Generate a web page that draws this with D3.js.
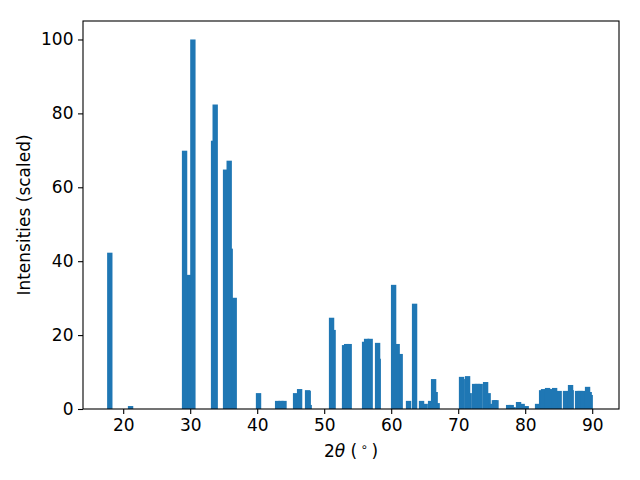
<!DOCTYPE html>
<html>
<head>
<meta charset="utf-8">
<script src="https://cdn.jsdelivr.net/npm/d3@7"></script>
<style>
  html, body { margin: 0; padding: 0; background: #fff; }
  svg { display: block; }
  text { font-family: "DejaVu Sans", sans-serif; fill: #000; }
</style>
</head>
<body>
<svg id="chart" width="640" height="480"></svg>
<script>
// ---- data ----
const twoTheta = [18.0, 21.1, 29.16, 29.9, 30.4, 33.49, 33.73, 35.28, 35.82, 35.97, 36.57,
  40.2, 43.05, 43.55, 44.0, 45.73, 46.33, 47.52, 47.61, 47.76,
  51.1, 51.33, 53.04, 53.35, 53.73, 56.03, 56.33, 56.86, 57.97, 58.06,
  60.36, 60.89, 61.34, 62.59, 63.49, 64.53, 65.07, 65.88, 66.33, 66.56, 66.86,
  70.5, 70.6, 71.4, 71.64, 72.45, 72.85, 73.28, 74.09, 74.47, 74.77, 75.4, 75.64,
  77.53, 77.91, 78.2, 79.01, 79.55, 80.15,
  81.85, 82.45, 82.74, 83.34, 83.6, 84.39, 85.07, 86.02, 86.77, 86.86, 87.82, 88.2, 88.65,
  89.31, 89.55, 89.7];
const intensity = [42.3, 0.8, 69.9, 36.3, 100, 72.6, 82.4, 64.8, 67.2, 43.4, 30.1,
  4.3, 2.2, 2.2, 2.2, 4.3, 5.4, 5.1, 4.9, 1.1,
  24.7, 21.4, 17.3, 17.6, 17.6, 18.2, 19.0, 19.0, 17.9, 13.6,
  33.6, 17.6, 14.9, 2.2, 28.5, 2.2, 1.4, 2.2, 8.1, 4.6, 1.6,
  8.7, 8.1, 8.9, 4.3, 6.8, 6.8, 6.8, 7.3, 4.3, 1.4, 2.4, 2.4,
  1.1, 1.1, 0.5, 1.9, 1.4, 0.8,
  1.4, 5.1, 5.4, 5.7, 5.4, 5.7, 4.9, 4.9, 6.5, 5.1, 4.9, 4.9, 4.9,
  6.0, 4.6, 3.8];
const xTicks = [20, 30, 40, 50, 60, 70, 80, 90];
const yTicks = [0, 20, 40, 60, 80, 100];
const xDomain = [14, 94];
const yDomain = [0, 105];
const barWidth = 0.8;

// ---- layout ----
const svg = d3.select("#chart");
const margin = { left: 83, top: 21, right: 21, bottom: 71 };
const W = 640 - margin.left - margin.right;
const H = 480 - margin.top - margin.bottom;
const g = svg.append("g").attr("transform", `translate(${margin.left},${margin.top})`);

const x = d3.scaleLinear().domain(xDomain).range([0, W]);
const y = d3.scaleLinear().domain(yDomain).range([H, 0]);

const bars = twoTheta.map((t, i) => ({ t, v: intensity[i] }))
  .sort((a, b) => a.v - b.v);

const bw = x(barWidth) - x(0);
g.append("g").selectAll("rect").data(bars).join("rect")
  .attr("x", d => x(d.t) - bw / 2)
  .attr("y", d => y(d.v))
  .attr("width", bw)
  .attr("height", d => y(0) - y(d.v))
  .attr("fill", "#1f77b4");

// axes
const fs = "17px";
const xAxis = g.append("g").attr("transform", `translate(0,${H})`)
  .call(d3.axisBottom(x).tickValues(xTicks).tickSize(5).tickPadding(4.5).tickFormat(d3.format("d")));
const yAxis = g.append("g")
  .call(d3.axisLeft(y).tickValues(yTicks).tickSize(5).tickPadding(4.5).tickFormat(d3.format("d")));
[xAxis, yAxis].forEach(a => {
  a.select(".domain").remove();
  a.selectAll("line").attr("stroke", "#000").attr("stroke-width", 1.1);
  a.selectAll("text").attr("font-family", "DejaVu Sans").attr("font-size", fs).attr("fill", "#000");
});

// frame
g.append("rect").attr("x", 0).attr("y", 0).attr("width", W).attr("height", H)
  .attr("fill", "none").attr("stroke", "#000").attr("stroke-width", 1.1);

// labels
const xl = svg.append("text")
  .attr("x", margin.left + W / 2).attr("y", 457)
  .attr("text-anchor", "middle").attr("font-size", fs);
xl.append("tspan").text("2");
xl.append("tspan").attr("font-style", "italic").text("θ");
xl.append("tspan").text(" (\u2009");
xl.append("tspan").attr("font-size", "12px").attr("dy", "-6").text("∘");
xl.append("tspan").attr("dy", "6").text("\u2009)");

svg.append("text")
  .attr("transform", `translate(30,${margin.top + H / 2}) rotate(-90)`)
  .attr("text-anchor", "middle").attr("font-size", fs)
  .text("Intensities (scaled)");
</script>
</body>
</html>
